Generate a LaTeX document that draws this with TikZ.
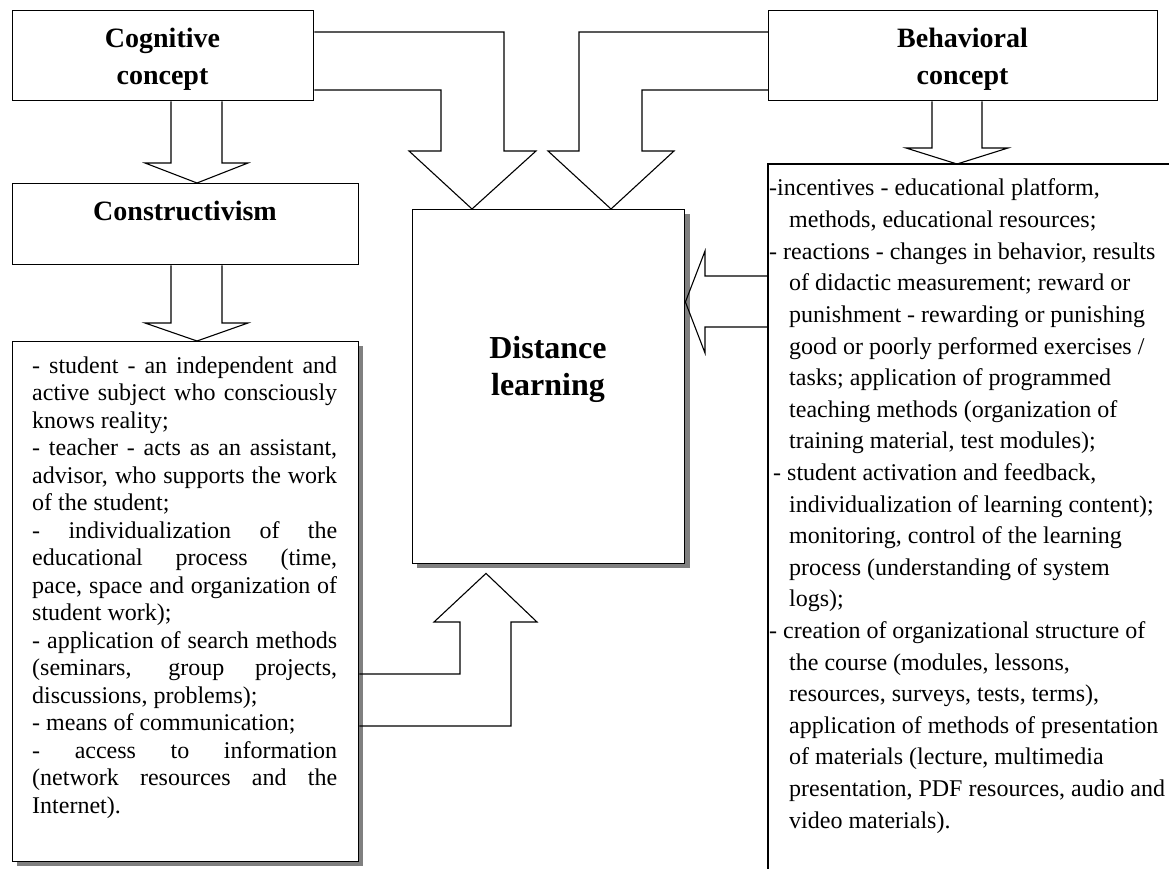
\documentclass[tikz,border=0pt]{standalone}
\usepackage{fontspec}
\setmainfont{Liberation Serif}
\usetikzlibrary{calc}
\tikzset{
  box/.style={draw, line width=1.4pt, inner sep=0pt, anchor=north west, fill=white},
  shadowbox/.style={fill=black!50, draw=none},
  blockarrow/.style={draw, line width=1.1pt, line join=miter},
  txt/.style={inner sep=0pt, anchor=base west},
  ttl/.style={inner sep=0pt, anchor=base},
}
\newcommand\ttltwo[3]{\vtop{\fontsize{#3}{37}\selectfont\bfseries\halign{\hfil##\hfil\cr #1\cr #2\cr}}}
\begin{document}
\begin{tikzpicture}[x=1pt,y=-1pt]
\useasboundingbox (0,0) rectangle (1169,869);
% shadows
\fill[shadowbox] (17,346) rectangle (363,866);
\fill[shadowbox] (417,214) rectangle (690,568);
% boxes
\node[box, minimum width=301pt, minimum height=90pt] (cog) at (12,10) {};
\node[box, minimum width=389pt, minimum height=90pt] (beh) at (768,10) {};
\node[box, minimum width=346pt, minimum height=81pt] (cons) at (12,183) {};
\node[box, minimum width=346pt, minimum height=520pt] (ltext) at (12,341) {};
\node[box, minimum width=272pt, minimum height=354pt] (dist) at (412,209) {};
\coordinate (rbox) at (768,164);
\draw[line width=1.4pt] (1169,164) -- (rbox) -- (768,869);
% block arrows
\draw[blockarrow] (cog.south -| 171,0) -- (171,163) -- (145,163) -- (cons.north -| 197,0) -- (248,163) -- (222,163) -- (cog.south -| 222,0);
\draw[blockarrow] (cons.south -| 171,0) -- (171,323) -- (145,323) -- (ltext.north -| 197,0) -- (248,323) -- (222,323) -- (cons.south -| 222,0);
\draw[blockarrow] (beh.south -| 932,0) -- (932,148) -- (906,148) -- (rbox -| 957,0) -- (1008,148) -- (982,148) -- (beh.south -| 982,0);
\draw[blockarrow] (cog.east |- 0,32) -- (504,32) -- (504,151) -- (536,151) -- (dist.north -| 472,0) -- (409,151) -- (441,151) -- (441,90) -- (cog.east |- 0,90);
\draw[blockarrow] (beh.west |- 0,32) -- (579,32) -- (579,151) -- (548,151) -- (dist.north -| 611,0) -- (674,151) -- (642,151) -- (642,90) -- (beh.west |- 0,90);
\draw[blockarrow] (rbox |- 0,276) -- (705,276) -- (705,251) -- (dist.east |- 0,302) -- (705,353) -- (705,327) -- (rbox |- 0,327);
\draw[blockarrow] (ltext.east |- 0,674) -- (460,674) -- (460,622) -- (434,622) -- ($(dist.south -| 486,0)+(0,9)$) -- (537,622) -- (511,622) -- (511,726) -- (ltext.east |- 0,726);
% titles
\node[ttl] (cogt) at (162.5,48) {\ttltwo{Cognitive}{concept}{28}};
\node[ttl] (beht) at (962.5,48) {\ttltwo{Behavioral}{concept}{28}};
\node[ttl] (const) at (185,220) {\fontsize{28}{37}\selectfont\bfseries Constructivism};
\node[ttl] (distt) at (548,358) {\ttltwo{Distance}{learning}{32}};
% left text
\node[txt] (ltxt) at (32,373) {\vtop{\fontsize{24}{27.5}\selectfont
\hbox to 305pt{- student - an independent and}
\hbox to 305pt{active subject who consciously}
\hbox{knows reality;}
\hbox to 305pt{- teacher - acts as an assistant,}
\hbox to 305pt{advisor, who supports the work}
\hbox{of the student;}
\hbox to 305pt{- individualization of the}
\hbox to 305pt{educational process (time,}
\hbox to 305pt{pace, space and organization of}
\hbox{student work);}
\hbox to 305pt{- application of search methods}
\hbox to 305pt{(seminars, group projects,}
\hbox{discussions, problems);}
\hbox{- means of communication;}
\hbox to 305pt{- access to information}
\hbox to 305pt{(network resources and the}
\hbox{Internet).}
}};
% right text
\node[txt] (rtxt) at (769,196) {\vtop{\fontsize{24}{31.6}\selectfont
\hbox{-incentives - educational platform,}
\hbox{\hskip20pt methods, educational resources;}
\hbox{- reactions - changes in behavior, results}
\hbox{\hskip20pt of didactic measurement; reward or}
\hbox{\hskip20pt punishment - rewarding or punishing}
\hbox{\hskip20pt good or poorly performed exercises /}
\hbox{\hskip20pt tasks; application of programmed}
\hbox{\hskip20pt teaching methods (organization of}
\hbox{\hskip20pt training material, test modules);}
\hbox{\hskip4pt - student activation and feedback,}
\hbox{\hskip20pt individualization of learning content);}
\hbox{\hskip20pt monitoring, control of the learning}
\hbox{\hskip20pt process (understanding of system}
\hbox{\hskip20pt logs);}
\hbox{- creation of organizational structure of}
\hbox{\hskip20pt the course (modules, lessons,}
\hbox{\hskip20pt resources, surveys, tests, terms),}
\hbox{\hskip20pt application of methods of presentation}
\hbox{\hskip20pt of materials (lecture, multimedia}
\hbox{\hskip20pt presentation, PDF resources, audio and}
\hbox{\hskip20pt video materials).}
}};
\end{tikzpicture}
\end{document}
